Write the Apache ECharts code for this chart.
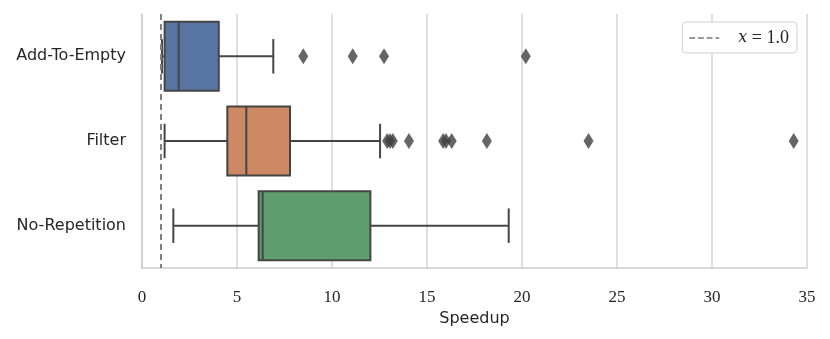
<!DOCTYPE html>
<html>
<head>
<meta charset="utf-8">
<script src="https://cdn.jsdelivr.net/npm/echarts@6/dist/echarts.min.js"></script>
<style>html,body{margin:0;padding:0;background:#fff}#c{width:830px;height:339px}</style>
</head>
<body>
<div id="c"></div>
<script>
// ---- data ----
const categories = ['Add-To-Empty', 'Filter', 'No-Repetition'];
// [lower whisker, Q1, median, Q3, upper whisker]
const addToEmptyBox = [1.05, 1.19, 1.93, 4.04, 6.91];
const filterBox = [1.19, 4.49, 5.49, 7.79, 12.53];
const noRepetitionBox = [1.65, 6.14, 6.35, 12.02, 19.3];
const addToEmptyOutliers = [8.49, 11.09, 12.74, 20.2];
const filterOutliers = [12.9, 13.05, 13.2, 14.05, 15.85, 16.0, 16.3, 18.15, 23.5, 34.3];
const noRepetitionOutliers = [];
const xTicks = [0, 5, 10, 15, 20, 25, 30, 35];
const refLine = 1.0;
const boxColors = ['#5975a4', '#cc8963', '#5f9e6e'];

const boxes = [addToEmptyBox, filterBox, noRepetitionBox];
const outliers = [addToEmptyOutliers, filterOutliers, noRepetitionOutliers];
const boxData = boxes.map((b, i) => [i].concat(b));
const outlierData = [];
outliers.forEach((arr, i) => arr.forEach(v => outlierData.push([v, i])));

const edge = '#454545';
const chart = echarts.init(document.getElementById('c'), null, {renderer: 'canvas'});

function renderBox(params, api) {
  const idx = api.value(0);
  const lw = api.value(1), q1 = api.value(2), med = api.value(3), q3 = api.value(4), hw = api.value(5);
  const bandH = api.size([0, 1])[1];
  const h = bandH * 0.815;
  const capH = h * 0.5;
  const pLw = api.coord([lw, idx]);
  const pQ1 = api.coord([q1, idx]);
  const pMed = api.coord([med, idx]);
  const pQ3 = api.coord([q3, idx]);
  const pHw = api.coord([hw, idx]);
  const cy = pQ1[1];
  const ls = {stroke: edge, lineWidth: 2, fill: null};
  return {
    type: 'group',
    children: [
      {type: 'line', shape: {x1: pLw[0], y1: cy, x2: pQ1[0], y2: cy}, style: ls},
      {type: 'line', shape: {x1: pQ3[0], y1: cy, x2: pHw[0], y2: cy}, style: ls},
      {type: 'line', shape: {x1: pLw[0], y1: cy - capH / 2, x2: pLw[0], y2: cy + capH / 2}, style: ls},
      {type: 'line', shape: {x1: pHw[0], y1: cy - capH / 2, x2: pHw[0], y2: cy + capH / 2}, style: ls},
      {type: 'rect', shape: {x: pQ1[0], y: cy - h / 2, width: pQ3[0] - pQ1[0], height: h},
        style: {fill: boxColors[idx], stroke: edge, lineWidth: 2}},
      {type: 'line', shape: {x1: pMed[0], y1: cy - h / 2, x2: pMed[0], y2: cy + h / 2}, style: ls}
    ]
  };
}

const dashIcon = 'path://M0,0H6V2H0Z M9,0H15V2H9Z M18,0H24V2H18Z M27,0H31V2H27Z';

const option = {
  animation: false,
  backgroundColor: '#fff',
  grid: {left: 142, right: 23, top: 14, bottom: 71, containLabel: false},
  legend: {
    show: true,
    right: 33, top: 22,
    orient: 'vertical',
    data: [{name: 'x = 1.0', icon: dashIcon}],
    itemWidth: 30, itemHeight: 2,
    padding: [7, 8, 6, 7],
    borderColor: '#d0d0d0', borderWidth: 1, borderRadius: 4,
    backgroundColor: '#fff',
    formatter: () => '{i|x}{n| = 1.0}',
    textStyle: {
      rich: {
        i: {fontFamily: 'DejaVu Serif', fontStyle: 'italic', fontSize: 16, color: '#262626', padding: [0, 0, 0, 14]},
        n: {fontFamily: 'Liberation Serif', fontSize: 18, color: '#262626', whiteSpace: 'pre'}
      }
    }
  },
  xAxis: {
    type: 'value', min: 0, max: 35, interval: 5,
    name: 'Speedup', nameLocation: 'middle', nameGap: 42,
    nameTextStyle: {fontFamily: 'DejaVu Sans', fontSize: 16, color: '#262626'},
    axisLine: {show: true, lineStyle: {color: '#cccccc', width: 1.5}},
    axisTick: {show: false},
    axisLabel: {margin: 21, fontFamily: 'Liberation Serif', fontSize: 17, color: '#262626',
      formatter: v => xTicks.indexOf(v) >= 0 ? String(v) : ''},
    splitLine: {show: true, lineStyle: {color: '#d5d5d5', width: 1.5}}
  },
  yAxis: {
    type: 'category', data: categories, inverse: true,
    axisLine: {show: true, lineStyle: {color: '#cccccc', width: 1.5}},
    axisTick: {show: false},
    axisLabel: {margin: 16, fontFamily: 'DejaVu Sans', fontSize: 16, color: '#262626'},
    splitLine: {show: false}
  },
  series: [
    {
      type: 'custom', name: 'boxes', renderItem: renderBox,
      encode: {x: [1, 2, 3, 4, 5], y: 0},
      data: boxData, z: 3
    },
    {
      type: 'scatter', name: 'outliers', data: outlierData,
      symbol: 'diamond', symbolSize: [10, 16],
      itemStyle: {color: '#3f3f3f'}, z: 4
    },
    {
      type: 'scatter', name: 'x = 1.0', data: [],
      itemStyle: {color: '#808080'},
      markLine: {
        silent: true, symbol: 'none', label: {show: false},
        lineStyle: {color: '#808080', type: [6, 4], width: 2},
        data: [{xAxis: refLine}]
      },
      z: 5
    }
  ]
};
chart.setOption(option);
</script>
</body>
</html>
